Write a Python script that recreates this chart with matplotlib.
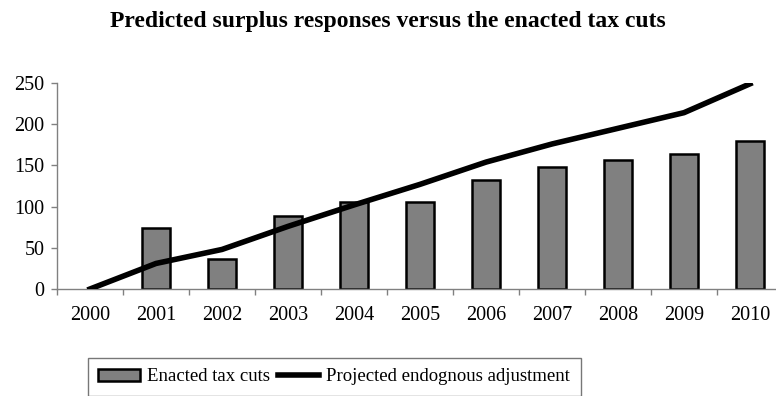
import numpy as np
import matplotlib
matplotlib.use("Agg")
import matplotlib.pyplot as plt

years = ["2000", "2001", "2002", "2003", "2004", "2005", "2006", "2007", "2008", "2009", "2010"]
tax_cuts = [0, 74, 37, 89, 105, 105, 132, 148, 157, 164, 180]
endogenous = [0, 31, 48, 76, 102, 127, 154, 176, 195, 214, 249]

plt.rcParams["font.family"] = ["Liberation Serif", "DejaVu Serif"]

fig = plt.figure(figsize=(7.76, 3.96), dpi=100)
ax = fig.add_axes([57 / 776, 107 / 396, 726 / 776, 206 / 396])

x = np.arange(len(years))
bars = ax.bar(x[1:], tax_cuts[1:], width=0.42, color="#808080", edgecolor="black",
              linewidth=1.8, label="Enacted tax cuts", zorder=2)
line, = ax.plot(x, endogenous, color="black", linewidth=4,
                label="Projected endognous adjustment", zorder=3)

ax.set_xlim(-0.5, len(years) - 0.5)
ax.set_ylim(0, 250)
ax.set_yticks([0, 50, 100, 150, 200, 250])
ax.set_xticks(x)
ax.set_xticklabels(years)
ax.set_xticks(np.arange(-0.5, len(years), 1), minor=True)

ax.tick_params(axis="x", which="major", length=0, pad=12, labelsize=14.5)
ax.tick_params(axis="x", which="minor", length=4, color="#808080", width=1)
ax.tick_params(axis="y", length=4, color="#808080", width=1, labelsize=14.5, pad=5)

for side in ("top", "right"):
    ax.spines[side].set_visible(False)
for side in ("left", "bottom"):
    ax.spines[side].set_color("#808080")
    ax.spines[side].set_linewidth(1)

fig.text(0.5, 0.945, "Predicted surplus responses versus the enacted tax cuts",
         ha="center", va="center", fontsize=17, fontweight="bold")

# legend sits low in the figure; its lower edge runs past the bottom
leg = fig.legend(handles=[bars, line], loc="upper left",
                 bbox_to_anchor=(88 / 776, 1 - 358 / 396),
                 ncol=2, frameon=True, fancybox=False, fontsize=13.5,
                 handlelength=2.2, handleheight=0.6, handletextpad=0.4,
                 columnspacing=0.4, borderpad=0.55, borderaxespad=0)
leg.get_frame().set_edgecolor("#555555")
leg.get_frame().set_linewidth(1)

fig.savefig("out.png", dpi=100)
